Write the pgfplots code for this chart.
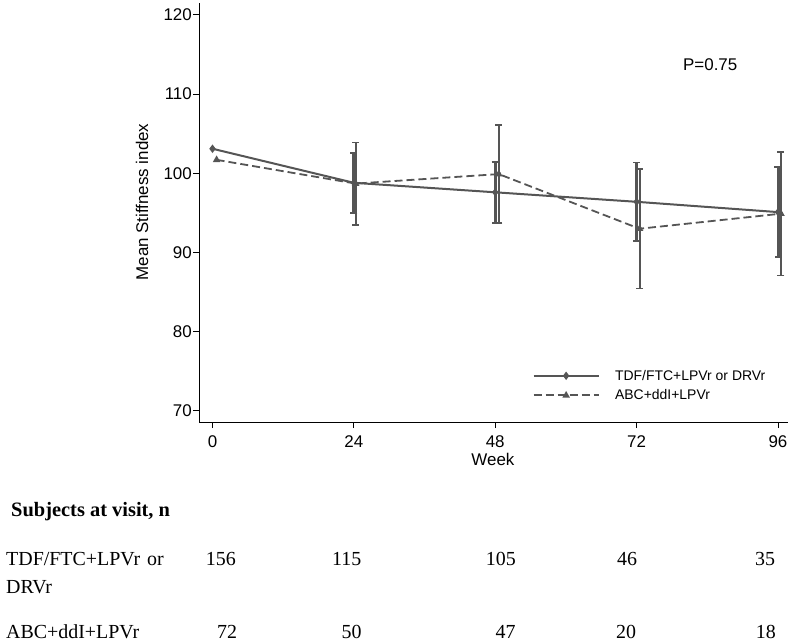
\documentclass[border=0pt]{standalone}
\usepackage{pgfplots}
\pgfplotsset{compat=1.18}
\usepackage{fontspec}
\setmainfont{Liberation Serif}
\newfontfamily\arialf{Liberation Sans}
\definecolor{lc}{RGB}{85,85,85}

\pgfplotstableread{
x y e
24 98.8 3.8
48 97.6 3.85
72 96.4 4.95
96 95.1 5.7
}\tdferr
\pgfplotstableread{
x y e
24.3 98.7 5.2
48.6 99.9 6.2
72.5 93.0 7.55
96.5 94.9 7.8
}\abcerr

\begin{document}
\begin{tikzpicture}[x=1bp,y=1bp]
\path[use as bounding box] (0,0) rectangle (800,-642);
\begin{axis}[
  at={(199bp,-422bp)}, anchor=south west,
  scale only axis, width=589bp, height=419bp,
  xmin=-2.29, xmax=97.7, ymin=68.6, ymax=121.5,
  axis lines*=left,
  axis line style={black, line width=1bp, -},
  xtick={0,24,48,72,96}, ytick={70,80,90,100,110,120},
  tick align=outside, major tick length=6bp,
  tick style={black, line width=1bp},
  /pgf/number format/assume math mode=true,
  ticklabel style={font=\arialf\fontsize{17}{17}\selectfont},
  xticklabel style={inner sep=0bp, yshift=-7bp},
  yticklabel style={inner sep=1bp},
  xlabel={Week}, ylabel={Mean Stiffness index},
  label style={font=\arialf\fontsize{17}{17}\selectfont},
  xlabel style={at={(axis description cs:0.499,-0.089)}, anchor=center, inner sep=0bp},
  ylabel style={at={(axis description cs:-0.0968,0.525)}, anchor=center},
  legend cell align=left,
  legend style={draw=none, fill=none, at={(axis description cs:0.561,0.133)}, anchor=north west,
    font=\arialf\fontsize{14}{14}\selectfont, row sep=5bp,
    nodes={inner sep=1.5bp},
    /tikz/every odd column/.append style={column sep=14bp}},
  legend image code/.code={\draw[mark repeat=2,mark phase=2,#1] plot coordinates {(0bp,0bp) (32.5bp,0bp) (65bp,0bp)};},
]
\addplot[lc, line width=2bp, mark=diamond*, mark size=2.6bp, mark options={solid}]
  coordinates {(0,103.1) (24,98.8) (48,97.6) (72,96.4) (96,95.1)};
\addlegendentry{TDF/FTC+LPVr or DRVr}
\addplot[lc, line width=1.8bp, dash pattern=on 8bp off 4bp, mark=triangle*, mark size=2.6bp, mark options={solid}]
  coordinates {(0.7,101.7) (24.3,98.7) (48.6,99.9) (72.5,93.0) (96.5,94.9)};
\addlegendentry{ABC+ddI+LPVr}
\addplot[lc, forget plot, only marks, mark=none,
  error bars/.cd, y dir=both, y explicit,
  error bar style={line width=3bp, lc, solid},
  error mark options={rotate=90, mark size=3.5bp, line width=1.6bp, lc, solid}]
  table[x=x, y=y, y error=e] {\tdferr};
\addplot[lc, forget plot, only marks, mark=none,
  error bars/.cd, y dir=both, y explicit,
  error bar style={line width=2bp, lc, solid},
  error mark options={rotate=90, mark size=3.5bp, line width=1.6bp, lc, solid}]
  table[x=x, y=y, y error=e] {\abcerr};
\node[font=\arialf\fontsize{17}{17}\selectfont, text=black] at (axis cs:84.5,113.7) {P=0.75};
\end{axis}
\begin{scope}[every node/.style={inner sep=0pt, font=\fontsize{20}{20}\selectfont}]
\node[anchor=base west, font=\bfseries\fontsize{20.5}{20.5}\selectfont] at (11,-516.7) {Subjects at visit, n};
\node[anchor=base west] at (6,-565) {TDF/FTC+LPVr};
\node[anchor=base west] at (147,-565) {or};
\node[anchor=base west] at (6,-593.3) {DRVr};
\node[anchor=base west] at (6,-638.3) {ABC+ddI+LPVr};
\node[anchor=base] at (220.8,-565) {156};
\node[anchor=base] at (346.7,-565) {115};
\node[anchor=base] at (500.8,-565) {105};
\node[anchor=base] at (627,-565) {46};
\node[anchor=base] at (765,-565) {35};
\node[anchor=base] at (227,-638.3) {72};
\node[anchor=base] at (351.7,-638.3) {50};
\node[anchor=base] at (505.5,-638.3) {47};
\node[anchor=base] at (626,-638.3) {20};
\node[anchor=base] at (765.8,-638.3) {18};
\end{scope}
\end{tikzpicture}
\end{document}
